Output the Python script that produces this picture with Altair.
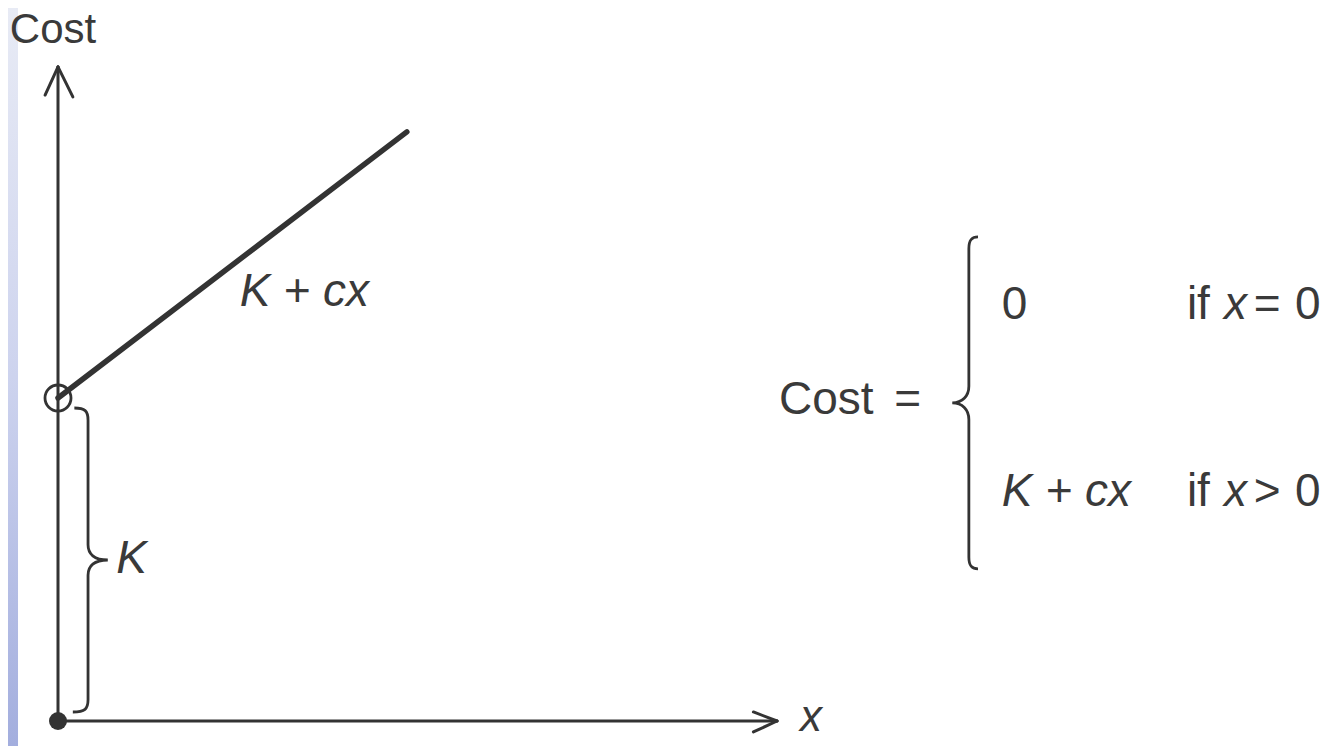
import altair as alt
import pandas as pd

# ---- scale set-up (units: K = 10, origin of the axes at 0,0) ----
X_DOMAIN = [-1.548, 39.164]
Y_DOMAIN = [-0.774, 22.074]
INK = "#333333"
TEXT_INK = "#3a3a3a"
FONT = "Liberation Sans"

# ---- cost line: K + c x for x > 0 ----
line_x = [0.0, 10.8]
line_cost = [10.0, 18.24]

# ---- axis segments with arrow heads ----
seg_x = [0.0, -0.40, 0.46, 0.0, 21.53, 21.53]
seg_y = [0.0, 19.38, 19.32, 0.0, 0.28, -0.34]
seg_x2 = [0.0, 0.0, 0.0, 22.26, 22.26, 22.26]
seg_y2 = [20.25, 20.25, 20.25, 0.0, 0.0, 0.0]

# ---- points: open at (0, K), closed at origin ----
open_x = [0.0]
open_y = [10.0]
dot_x = [0.0]
dot_y = [0.0]

# ---- braces (centre positions) ----
brace_names = ["K", "cases"]
brace_x = [0.93, 28.2]
brace_y = [4.985, 9.85]

# ---- decorative left strip ----
strip_x = [-1.548]
strip_x2 = [-1.238]
strip_y = [-0.774]
strip_y2 = [22.074]

# ---- text labels ----
txt_labels = ["Cost",
              "K + cx",
              "K",
              "x",
              "Cost", "=",
              "0", "if", "x", "=", "0",
              "K + cx", "if", "x", ">", "0"]
txt_x = [-1.49,
         5.63,
         1.80,
         22.97,
         22.32, 25.89,
         29.22, 34.95, 36.10, 37.02, 38.30,
         29.22, 34.95, 36.10, 37.02, 38.30]
txt_y = [21.40,
         13.27,
         5.00,
         0.08,
         9.94, 9.94,
         12.88, 12.88, 12.88, 12.88, 12.88,
         7.09, 7.09, 7.09, 7.09, 7.09]
txt_size = [42,
            46,
            46,
            44,
            46, 46,
            46, 46, 46, 46, 46,
            46, 46, 46, 46, 46]
txt_style = ["normal",
             "italic",
             "italic",
             "italic",
             "normal", "normal",
             "normal", "normal", "italic", "normal", "normal",
             "italic", "normal", "italic", "normal", "normal"]

xs = alt.Scale(domain=X_DOMAIN, nice=False, zero=False)
ys = alt.Scale(domain=Y_DOMAIN, nice=False, zero=False)


def X(f):
    return alt.X(f, type="quantitative", scale=xs, axis=None)


def Y(f):
    return alt.Y(f, type="quantitative", scale=ys, axis=None)


strip_df = pd.DataFrame({"x": strip_x, "x2": strip_x2, "y": strip_y, "y2": strip_y2})
strip = alt.Chart(strip_df).mark_rect(
    fill=alt.Gradient(
        gradient="linear", x1=0, x2=0, y1=0, y2=1,
        stops=[alt.GradientStop(color="#e8ebf5", offset=0),
               alt.GradientStop(color="#cdd3ee", offset=0.5),
               alt.GradientStop(color="#a3aede", offset=1)],
    ),
).encode(x=X("x"), x2="x2", y=Y("y"), y2="y2")

seg_df = pd.DataFrame({"x": seg_x, "y": seg_y, "x2": seg_x2, "y2": seg_y2})
axes = alt.Chart(seg_df).mark_rule(color=INK, strokeWidth=3, strokeCap="round").encode(
    x=X("x"), y=Y("y"), x2="x2", y2="y2"
)

line_df = pd.DataFrame({"x": line_x, "cost": line_cost})
cost_line = alt.Chart(line_df).mark_line(color=INK, strokeWidth=5.5, strokeCap="round").encode(
    x=X("x"), y=Y("cost")
)

open_df = pd.DataFrame({"x": open_x, "y": open_y})
open_pt = alt.Chart(open_df).mark_point(
    shape="circle", filled=False, size=676, stroke=INK, strokeWidth=2.8, opacity=1
).encode(x=X("x"), y=Y("y"))

dot_df = pd.DataFrame({"x": dot_x, "y": dot_y})
dot = alt.Chart(dot_df).mark_point(
    shape="circle", filled=True, size=324, color=INK, opacity=1
).encode(x=X("x"), y=Y("y"))

RIGHT_BRACE = ("M -0.09 -1 C -0.02 -1 0 -0.98 0 -0.92 L 0 -0.1 "
               "C 0 -0.04 0.04 0 0.13 0 C 0.04 0 0 0.04 0 0.1 "
               "L 0 0.92 C 0 0.98 -0.02 1 -0.1 1")
LEFT_BRACE = ("M 0.055 -1 C 0.015 -1 0 -0.98 0 -0.93 L 0 -0.1 "
              "C 0 -0.04 -0.04 0 -0.10 0 C -0.04 0 0 0.04 0 0.1 "
              "L 0 0.93 C 0 0.98 0.015 1 0.055 1")

brace_df = pd.DataFrame({"name": brace_names, "x": brace_x, "y": brace_y})
brace_k = alt.Chart(brace_df).transform_filter(alt.datum.name == "K").mark_point(
    shape=RIGHT_BRACE, filled=False, size=92416, stroke=INK, strokeWidth=2.8, opacity=1
).encode(x=X("x"), y=Y("y"))
brace_c = alt.Chart(brace_df).transform_filter(alt.datum.name == "cases").mark_point(
    shape=LEFT_BRACE, filled=False, size=110224, stroke=INK, strokeWidth=2.8, opacity=1
).encode(x=X("x"), y=Y("y"))

txt_df = pd.DataFrame({"x": txt_x, "y": txt_y, "label": txt_labels,
                       "fs": txt_size, "style": txt_style})
txt_normal = alt.Chart(txt_df).transform_filter(alt.datum.style == "normal").mark_text(
    font=FONT, align="left", baseline="middle", color=TEXT_INK
).encode(x=X("x"), y=Y("y"), text="label:N", size=alt.Size("fs:Q", scale=None, legend=None))
txt_italic = alt.Chart(txt_df).transform_filter(alt.datum.style == "italic").mark_text(
    font=FONT, fontStyle="italic", align="left", baseline="middle", color=TEXT_INK
).encode(x=X("x"), y=Y("y"), text="label:N", size=alt.Size("fs:Q", scale=None, legend=None))

chart = alt.layer(
    strip, axes, cost_line, open_pt, dot, brace_k, brace_c, txt_normal, txt_italic
).properties(
    width=1315, height=738, padding=0,
    autosize=alt.AutoSizeParams(type="none"),
    background="white",
).configure_view(stroke=None)

chart.save("out.html", embed_options={"renderer": "svg", "actions": False})
